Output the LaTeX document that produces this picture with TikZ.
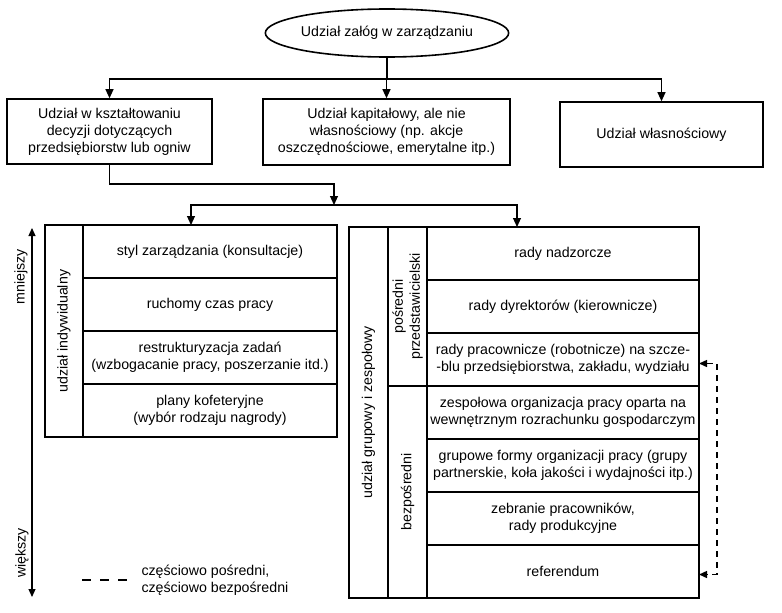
\documentclass[tikz,border=0pt]{standalone}
\usepackage{fontspec}
\setmainfont{Liberation Sans}
\usetikzlibrary{arrows.meta,positioning,shapes.geometric}

\begin{document}
\begin{tikzpicture}[
  x=1pt, y=-1pt,
  font=\fontsize{14.2}{17}\selectfont,
  node distance=0pt,
  box/.style={draw,line width=1.6pt,align=center,inner sep=2pt},
  cell/.style={draw,line width=1.5pt,align=center,outer sep=0pt,inner sep=2pt,minimum height=53pt},
  lcell/.style={cell,minimum width=254pt},
  rcell/.style={cell,minimum width=272pt},
  side/.style={draw,line width=1.5pt,align=center,outer sep=0pt,inner sep=0pt,rotate=90},
  arr/.style={line width=1.1pt,-{Triangle[length=9pt,width=8pt]}},
  tip/.style={{Triangle[length=8pt,width=7pt]}-{Triangle[length=8pt,width=7pt]}},
  dsh/.style={line width=1.4pt,dash pattern=on 6pt off 5pt}
]
\useasboundingbox (0,0) rectangle (782,613);

% Top level
\node[ellipse,draw,line width=1.6pt,minimum width=213pt,minimum height=48pt,inner sep=0pt] (top) at (387,33) {Udział załóg w zarządzaniu};
\node[box,minimum width=205pt,minimum height=65pt] (decyz) at (109.5,131.5) {Udział w kształtowaniu\\decyzji dotyczących\\przedsiębiorstw lub ogniw};
\node[box,minimum width=247pt,minimum height=66pt] (kapit) at (386.5,132) {Udział kapitałowy, ale nie\\własnościowy (np. akcje\\oszczędnościowe, emerytalne itp.)};
\node[box,minimum width=203pt,minimum height=65pt] (wlasn) at (661.5,134.5) {Udział własnościowy};

\coordinate (bus) at (387,79);
\draw[line width=1.1pt] (top.south) -- (bus);
\draw[arr] (bus) -| (decyz.north);
\draw[arr] (bus) -| (kapit.north);
\draw[arr] (bus) -| (wlasn.north);

% Left table
\node[lcell] (styl) at (210,251.5) {styl zarządzania (konsultacje)};
\node[lcell,below=of styl] (ruch) {ruchomy czas pracy};
\node[lcell,below=of ruch] (restr) {restrukturyzacja zadań\\(wzbogacanie pracy, poszerzanie itd.)};
\node[lcell,below=of restr] (kafet) {plany kofeteryjne\\(wybór rodzaju nagrody)};
\node[side,minimum width=212pt,minimum height=38pt] (indyw) at (64,331) {udział indywidualny};

% Right table
\node[rcell] (nadz) at (563,253.5) {rady nadzorcze};
\node[rcell,below=of nadz] (dyr) {rady dyrektorów (kierownicze)};
\node[rcell,below=of dyr] (prac) {rady pracownicze (robotnicze) na szcze-\\-blu przedsiębiorstwa, zakładu, wydziału};
\node[rcell,below=of prac] (zesp) {zespołowa organizacja pracy oparta na\\wewnętrznym rozrachunku gospodarczym};
\node[rcell,below=of zesp] (grform) {grupowe formy organizacji pracy (grupy\\partnerskie, koła jakości i wydajności itp.)};
\node[rcell,below=of grform] (zebr) {zebranie pracowników,\\rady produkcyjne};
\node[rcell,below=of zebr] (ref) {referendum};
\node[side,minimum width=159pt,minimum height=39pt] (posr) at (407.5,306.5) {pośredni\\przedstawicielski};
\node[side,minimum width=212pt,minimum height=39pt] (bezp) at (407.5,492) {bezpośredni};
\node[side,minimum width=371pt,minimum height=39pt] (grup) at (368.5,412.5) {udział grupowy i zespołowy};

% Connectors to the tables
\coordinate (kn1) at (334,184);
\coordinate (kn2) at (334,205);
\coordinate (ltop) at (191,225);
\coordinate (rtop) at (517,227);
\draw[arr] (decyz.south) |- (kn1) -- (kn2);
\draw[arr] (kn2) -| (ltop);
\draw[arr] (kn2) -| (rtop);

\draw[dsh,tip] ([yshift=-4pt]prac.east) -- ++(18,0) |- ([yshift=-3pt]ref.east);

% Scale on the left
\coordinate (ax1) at (32,228);
\coordinate (ax2) at (32,597);
\draw[line width=1.1pt,tip] (ax1) -- (ax2);
\node[rotate=90] (mniej) at (21,277) {mniejszy};
\node[rotate=90] (wiek) at (22,553) {większy};

% Legend
\coordinate (lg1) at (82,580);
\coordinate (lg2) at (127,580);
\draw[line width=1.5pt,dash pattern=on 9pt off 9pt] (lg1) -- (lg2);
\node[anchor=west,align=left] (lgtxt) at (138,580) {częściowo pośredni,\\częściowo bezpośredni};
\end{tikzpicture}
\end{document}
